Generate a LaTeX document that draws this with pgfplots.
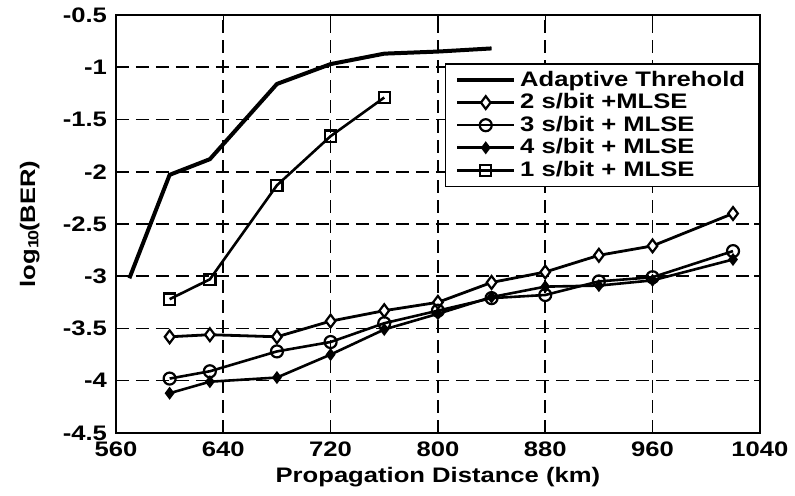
\documentclass[border=0pt]{standalone}
\usepackage{fontspec}
\setmainfont{Liberation Sans}[FakeStretch=1.22]
\usepackage{pgfplots}
\pgfplotsset{compat=1.18}

\begin{document}
\begin{tikzpicture}
\begin{axis}[
  name=ax,
  scale only axis, width=322pt, height=209pt,
  xmin=560, xmax=1040, ymin=-4.5, ymax=-0.5,
  xtick={560,640,...,1040},
  ytick={-4.5,-4,...,-0.5},
  /pgf/number format/assume math mode=true,
  /pgf/number format/set thousands separator={},
  tick label style={font=\fontsize{10.5}{12}\bfseries},
  yticklabel style={/pgf/number format/fixed, xshift=-1pt},
  xticklabel style={yshift=-1pt},
  xlabel={Propagation Distance (km)},
  ylabel={log$_{\mathbf{10}}$(BER)},
  every axis x label/.style={at={(axis description cs:0.5,-0.105)}, anchor=center,
    font=\fontsize{10.5}{12}\bfseries},
  every axis y label/.style={at={(axis description cs:-0.134,0.5)}, rotate=90, anchor=center,
    font=\fontsize{10.5}{12}\bfseries},
  axis line style={black, line width=0.9pt},
  tick align=inside, major tick length=3pt,
  tick style={black, line width=0.7pt},
  grid=major,
  grid style={black, line width=0.8pt, dash pattern=on 6.5pt off 3.5pt},
  legend style={at={(1,0.885)}, anchor=north east, draw=black, line width=0.8pt,
    font=\fontsize{10.5}{10.5}\bfseries, inner ysep=1.5pt, inner xsep=5pt, row sep=-1.8pt,
    cells={anchor=west}},
  legend image code/.code={\draw[mark repeat=2,mark phase=2] plot coordinates {(0cm,0cm)(0.5cm,0cm)(1cm,0cm)};},
]
\addplot[black, line width=2pt] coordinates
  {(570,-3.02) (600,-2.03) (630,-1.88) (680,-1.16) (720,-0.97) (760,-0.87) (800,-0.85) (840,-0.82)};
\addlegendentry{Adaptive Threhold}
\addplot[black, line width=1.4pt, mark=diamond*, mark size=3.2pt, mark options={fill=white, line width=1.1pt}] coordinates
  {(600,-3.58) (630,-3.56) (680,-3.58) (720,-3.43) (760,-3.33) (800,-3.25) (840,-3.06) (880,-2.96) (920,-2.80) (960,-2.71) (1020,-2.40)};
\addlegendentry{2 s/bit +MLSE}
\addplot[black, line width=1.3pt, mark=o, mark size=3pt, mark options={fill=white, line width=1.1pt}] coordinates
  {(600,-3.98) (630,-3.91) (680,-3.72) (720,-3.63) (760,-3.45) (800,-3.33) (840,-3.21) (880,-3.18) (920,-3.05) (960,-3.01) (1020,-2.76)};
\addlegendentry{3 s/bit + MLSE}
\addplot[black, line width=1.3pt, mark=diamond*, mark size=2.2pt] coordinates
  {(600,-4.12) (630,-4.01) (680,-3.97) (720,-3.75) (760,-3.51) (800,-3.36) (840,-3.20) (880,-3.10) (920,-3.09) (960,-3.04) (1020,-2.84)};
\addlegendentry{4 s/bit + MLSE}
\addplot[black, line width=1.3pt, mark=square, mark size=2.8pt, mark options={fill=white, line width=1.1pt}] coordinates
  {(600,-3.22) (630,-3.03) (680,-2.13) (720,-1.66) (760,-1.29)};
\addlegendentry{1 s/bit + MLSE}
\end{axis}
\path[use as bounding box] ([xshift=-58pt,yshift=-31.5pt]ax.south west) rectangle ([xshift=17.5pt,yshift=7.5pt]ax.north east);
\end{tikzpicture}
\end{document}
